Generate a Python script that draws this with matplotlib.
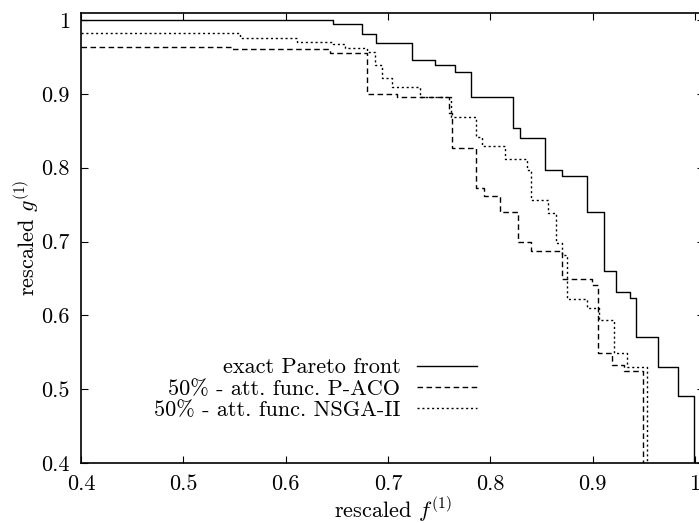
import matplotlib
matplotlib.use("Agg")
import matplotlib.pyplot as plt

# --- data (staircase breakpoints: level y[i] holds from x[i] to x[i+1]) ---
exact_x = [0.4, 0.646, 0.675, 0.688, 0.723, 0.746, 0.765, 0.781, 0.822, 0.829,
           0.853, 0.870, 0.894, 0.911, 0.923, 0.936, 0.942, 0.964, 0.983, 0.999]
exact_y = [1.0, 0.995, 0.981, 0.969, 0.946, 0.939, 0.930, 0.896, 0.854, 0.840,
           0.797, 0.789, 0.740, 0.660, 0.631, 0.623, 0.570, 0.530, 0.491, 0.4]

paco_x = [0.4, 0.548, 0.643, 0.679, 0.709, 0.760, 0.763, 0.786, 0.794, 0.809,
          0.827, 0.840, 0.870, 0.899, 0.905, 0.919, 0.931, 0.949]
paco_y = [0.963, 0.961, 0.955, 0.900, 0.896, 0.874, 0.827, 0.772, 0.762, 0.740,
          0.699, 0.687, 0.649, 0.641, 0.549, 0.533, 0.524, 0.4]

nsga_x = [0.4, 0.555, 0.611, 0.646, 0.658, 0.679, 0.687, 0.694, 0.704, 0.731,
          0.762, 0.786, 0.792, 0.814, 0.836, 0.840, 0.856, 0.864, 0.870, 0.875,
          0.894, 0.906, 0.921, 0.934, 0.953]
nsga_y = [0.982, 0.976, 0.970, 0.968, 0.962, 0.957, 0.939, 0.921, 0.909, 0.896,
          0.869, 0.842, 0.829, 0.812, 0.797, 0.756, 0.739, 0.698, 0.682, 0.622,
          0.610, 0.594, 0.549, 0.530, 0.4]

labels = ["exact Pareto front", r"50% - att. func. P-ACO", r"50% - att. func. NSGA-II"]
xticks = [0.4, 0.5, 0.6, 0.7, 0.8, 0.9, 1.0]
xticklabels = ["0.4", "0.5", "0.6", "0.7", "0.8", "0.9", "1"]
yticks = [0.4, 0.5, 0.6, 0.7, 0.8, 0.9, 1.0]
yticklabels = ["0.4", "0.5", "0.6", "0.7", "0.8", "0.9", "1"]

plt.rcParams["font.family"] = ["cmr10", "DejaVu Serif"]
plt.rcParams["mathtext.fontset"] = "cm"
plt.rcParams["axes.formatter.use_mathtext"] = True
plt.rcParams["font.size"] = 16

fig = plt.figure(figsize=(6.99, 5.23), dpi=100)
ax = fig.add_axes([81/699, 1 - 463/523, (704 - 81)/699, (463 - 13)/523])

lw = 1.0
ax.step(exact_x, exact_y, where="post", color="black", lw=lw, label=labels[0])
ax.step(paco_x, paco_y, where="post", color="black", lw=lw,
        linestyle=(0, (4, 2.5)), label=labels[1])
ax.step(nsga_x, nsga_y, where="post", color="black", lw=lw,
        linestyle=(0, (1.5, 2)), label=labels[2])

ax.set_xlim(0.4, 1.0088)
ax.set_ylim(0.4, 1.0095)
ax.set_xticks(xticks)
ax.set_xticklabels(xticklabels)
ax.set_yticks(yticks)
ax.set_yticklabels(yticklabels)
ax.tick_params(direction="in", length=5, width=0.8, top=True, right=True, pad=8)
for s in ax.spines.values():
    s.set_linewidth(1.2)

ax.set_xlabel(r"rescaled $f^{(1)}$", labelpad=1)
ax.set_ylabel(r"rescaled $g^{(1)}$", labelpad=0)

leg = ax.legend(loc="lower right", bbox_to_anchor=((477 - 81) / 623, (463 - 420) / 450),
                frameon=False, markerfirst=False, handlelength=2.7, handletextpad=0.75,
                labelspacing=0.08, borderpad=0, borderaxespad=0)

fig.savefig("out.png", dpi=100)
